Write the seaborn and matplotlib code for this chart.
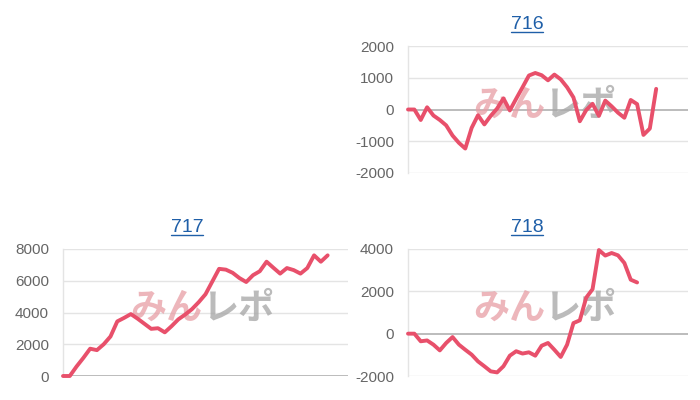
import numpy as np
import pandas as pd
import seaborn as sns
import matplotlib
matplotlib.use("Agg")
import matplotlib.pyplot as plt
from matplotlib.lines import Line2D

# values, one point per slot
titles = ["716", "717", "718"]
vals_716 = [0, 0, -330, 70, -190, -330, -500, -820, -1050, -1230,
            -580, -180, -470, -200, 30, 350, -30, 340, 700, 1070,
            1150, 1080, 920, 1100, 950, 700, 380, -370, -20, 180,
            -200, 280, 100, -100, -260, 300, 170, -800, -600, 650]
vals_717 = [0, 0, 600, 1140, 1720, 1630, 2000, 2490, 3440, 3660,
            3900, 3610, 3290, 2970, 3010, 2750, 3140, 3570, 3870, 4210,
            4650, 5150, 5950, 6750, 6700, 6500, 6170, 5920, 6350, 6600,
            7200, 6820, 6450, 6800, 6670, 6450, 6800, 7600, 7200, 7600]
vals_718 = [0, 0, -360, -320, -520, -790, -440, -160, -520, -760,
            -990, -1310, -1540, -1780, -1830, -1540, -1040, -830, -940, -880,
            -1040, -570, -440, -760, -1100, -520, 500, 630, 1700, 2100,
            3950, 3690, 3810, 3700, 3340, 2550, 2420]
slots = [45, 43, 45]
yticks = [[-2000, -1000, 0, 1000, 2000],
          [0, 2000, 4000, 6000, 8000],
          [-2000, 0, 2000, 4000]]

LINE = "#e8506b"
BLUE = "#1f5fa8"
GRID = "#e4e4e4"
ZERO = "#b0b0b0"

sns.set_theme(style="white")
plt.rcParams['font.family'] = ['Liberation Sans', 'DejaVu Sans']

fig = plt.figure(figsize=(7, 4), dpi=100)
W, H = 700.0, 400.0

# panel boxes in pixels: left, top, width, height ; title centre x, title baseline y
boxes = [(408, 46, 280, 127, 527, 29),
         (63, 249, 285, 127, 187, 232),
         (408, 249, 280, 127, 527, 232)]

series = [vals_716, vals_717, vals_718]

for name, vals, n, ticks, box in zip(titles, series, slots, yticks, boxes):
    l, t, w, h, tx, ty = box
    ax = fig.add_axes([l / W, 1 - (t + h) / H, w / W, h / H])
    df = pd.DataFrame({"x": np.arange(len(vals)), "y": vals})

    for v in ticks:
        ax.axhline(v, color=ZERO if v == 0 else GRID, lw=1.2 if v == 0 else 1.0, zorder=0)

    sns.lineplot(data=df, x="x", y="y", ax=ax, color=LINE, linewidth=2.8,
                 zorder=3, clip_on=False)

    # faint logo watermark
    ax.text(0.49, 0.53, "みん", transform=ax.transAxes, ha="right", va="center",
            fontsize=26, fontweight="bold", color="#e79ea5", alpha=0.75,
            family=["Noto Sans CJK JP"], zorder=1)
    ax.text(0.49, 0.53, "レポ", transform=ax.transAxes, ha="left", va="center",
            fontsize=26, fontweight="bold", color="#aaaaaa", alpha=0.8,
            family=["Noto Sans CJK JP"], zorder=1)

    ax.set_xlim(0, n - 1)
    ax.set_ylim(ticks[0], ticks[-1])
    ax.set_yticks(ticks)
    ax.set_yticklabels([str(v) for v in ticks])
    ax.set_xticks([])
    ax.set_xlabel("")
    ax.set_ylabel("")
    ax.tick_params(axis="y", length=0, pad=10, labelsize=11, labelcolor="#666666")
    for s in ["top", "right", "bottom"]:
        ax.spines[s].set_visible(False)
    ax.spines["left"].set_color(GRID)
    ax.spines["left"].set_linewidth(1.0)
    ax.set_facecolor("none")

    # link-style underlined title
    txt = fig.text(tx / W, 1 - ty / H, name, ha="center", va="baseline",
                   fontsize=14, color=BLUE)
    fig.canvas.draw()
    bb = txt.get_window_extent()
    uy = 1 - (ty + 3) / H
    fig.add_artist(Line2D([bb.x0 / W, bb.x1 / W], [uy, uy], color=BLUE, lw=1.0))

fig.savefig("out.png", dpi=100)
